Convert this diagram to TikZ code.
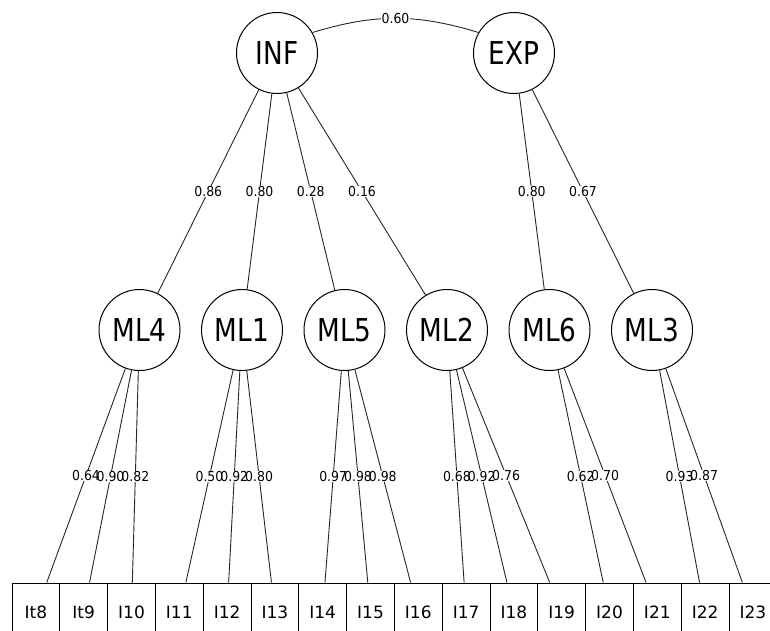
\documentclass[tikz,border=0pt]{standalone}
\usepackage{graphicx}
\usepackage{fontspec}
\setmainfont{DejaVu Sans}
\newcommand{\lattext}[1]{\scalebox{0.835}[1]{\fontsize{31.5}{32}\selectfont #1}}
\newcommand{\lbltext}[1]{\scalebox{0.91}[1]{\fontsize{13.7}{14}\selectfont #1}}
\begin{document}
\begin{tikzpicture}[x=1pt,y=-1pt,
  latent/.style={circle,draw,line width=1pt,minimum size=81pt,inner sep=0pt,fill=white},
  manifest/.style={rectangle,draw,line width=1pt,minimum width=47.8pt,minimum height=58pt,inner sep=0pt,font=\fontsize{17}{17}\selectfont},
  edge/.style={line width=0.9pt,black!85},
  lblbg/.style={fill=white,inner sep=0.3pt},
  lbltx/.style={inner sep=0.3pt}]
\useasboundingbox (0,0) rectangle (770,630);
\clip (0,0) rectangle (770,630);
% latent factors
\node[latent] (INF) at (277,53) {\lattext{INF}};
\node[latent] (EXP) at (514,53) {\lattext{EXP}};
\node[latent] (ML4) at (139.5,330) {\lattext{ML4}};
\node[latent] (ML1) at (242,330) {\lattext{ML1}};
\node[latent] (ML5) at (344.5,330) {\lattext{ML5}};
\node[latent] (ML2) at (447,330) {\lattext{ML2}};
\node[latent] (ML6) at (549.5,330) {\lattext{ML6}};
\node[latent] (ML3) at (652,330) {\lattext{ML3}};
% manifest items
\foreach \nm [count=\i from 0] in {It8,It9,I10,I11,I12,I13,I14,I15,I16,I17,I18,I19,I20,I21,I22,I23}
  \node[manifest] (\nm) at ({12+47.8*(\i+0.5)},612) {\nm};
% covariance
\draw[edge] (INF.30) to[bend left=17] coordinate[midway] (c-cov) (EXP.150);
% second-order loadings
\foreach \f/\t in {INF/ML4,INF/ML1,INF/ML5,INF/ML2,EXP/ML6,EXP/ML3}
  \draw[edge] (\f) -- (\t) coordinate[midway] (c-\t);
% first-order loadings
\foreach \f/\it in {ML4/It8,ML4/It9,ML4/I10,ML1/I11,ML1/I12,ML1/I13,
                    ML5/I14,ML5/I15,ML5/I16,ML2/I17,ML2/I18,ML2/I19,
                    ML6/I20,ML6/I21,ML3/I22,ML3/I23}
  \draw[edge] (\f) -- (\it) coordinate[midway] (c-\it);
% label backgrounds, then label texts
\foreach \c/\v in {cov/0.60,ML4/0.86,ML1/0.80,ML5/0.28,ML2/0.16,ML6/0.80,ML3/0.67,
                   It8/0.64,It9/0.90,I10/0.82,I11/0.50,I12/0.92,I13/0.80,
                   I14/0.97,I15/0.98,I16/0.98,I17/0.68,I18/0.92,I19/0.76,
                   I20/0.62,I21/0.70,I22/0.93,I23/0.87}
  \node[lblbg] (b-\c) at (c-\c) {\lbltext{\phantom{\v}}};
\foreach \c/\v in {cov/0.60,ML4/0.86,ML1/0.80,ML5/0.28,ML2/0.16,ML6/0.80,ML3/0.67,
                   It8/0.64,It9/0.90,I10/0.82,I11/0.50,I12/0.92,I13/0.80,
                   I14/0.97,I15/0.98,I16/0.98,I17/0.68,I18/0.92,I19/0.76,
                   I20/0.62,I21/0.70,I22/0.93,I23/0.87}
  \node[lbltx] (t-\c) at (c-\c) {\lbltext{\v}};
\end{tikzpicture}
\end{document}
